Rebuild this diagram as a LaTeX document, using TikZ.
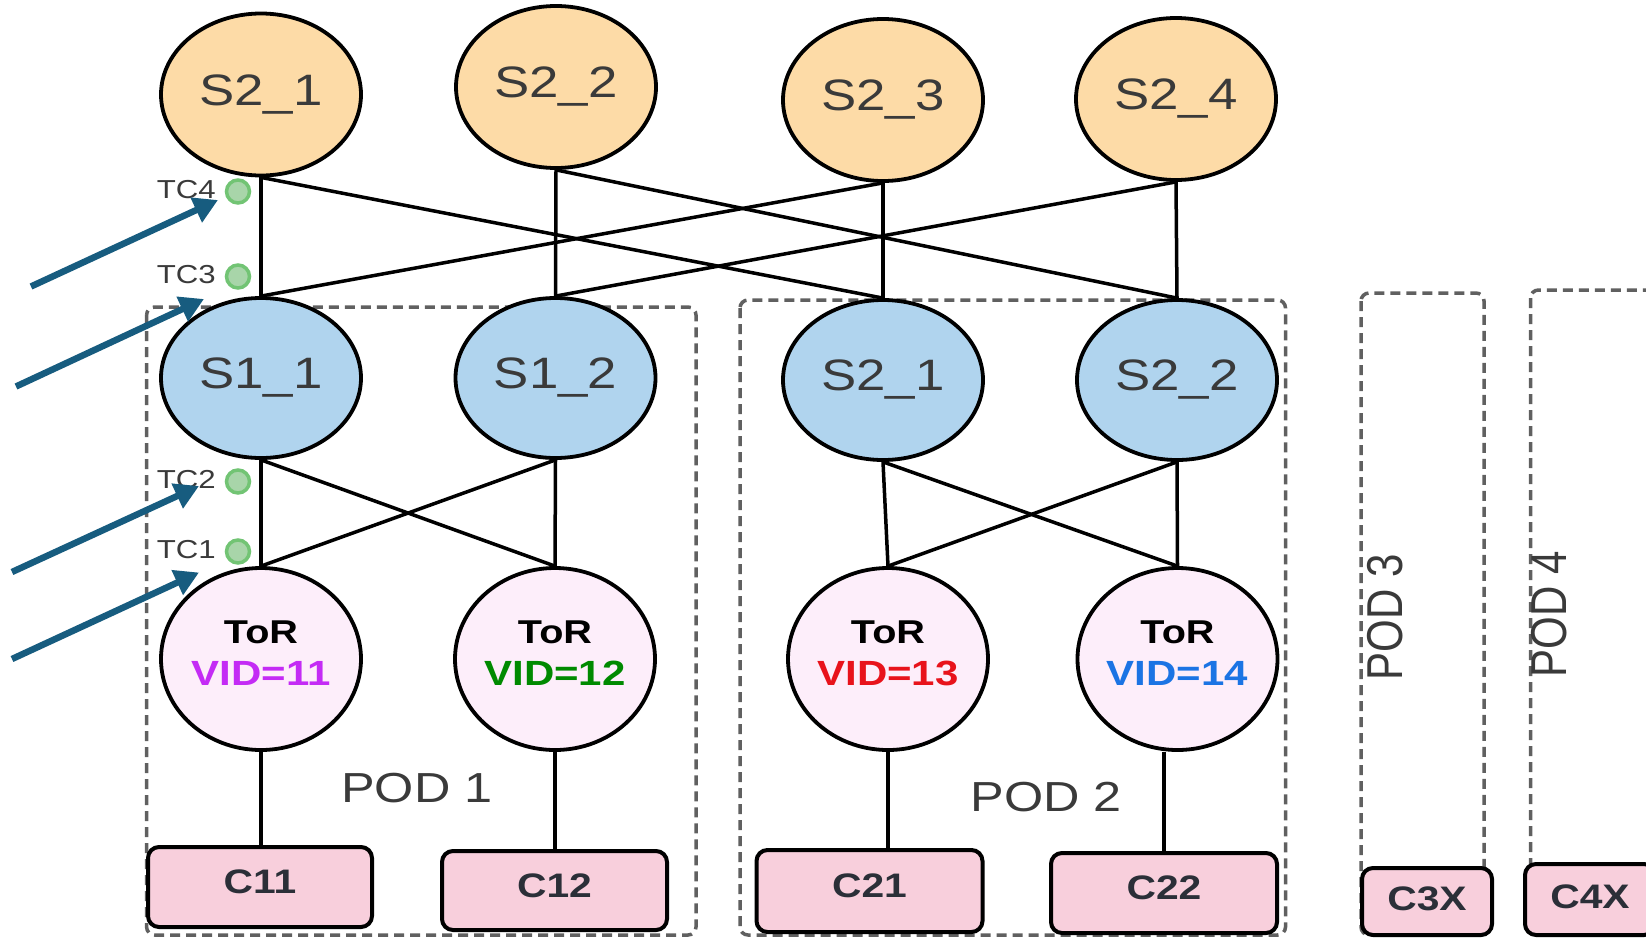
\documentclass[tikz,border=0pt]{standalone}
\usepackage{fontspec}
\setmainfont{Liberation Sans}
\usepackage{graphicx}
\usetikzlibrary{shapes.geometric,arrows.meta}

\definecolor{spinefill}{HTML}{FDDBA7}
\definecolor{leaffill}{HTML}{B0D4EE}
\definecolor{torfill}{HTML}{FDEEFA}
\definecolor{hostfill}{HTML}{F8CFDC}
\definecolor{podgray}{HTML}{606060}
\definecolor{labelgray}{HTML}{3A3A3A}
\definecolor{hosttext}{HTML}{2B2F38}
\definecolor{arrowblue}{HTML}{175C7F}
\definecolor{dotfill}{HTML}{A8D5A9}
\definecolor{dotedge}{HTML}{72C474}
\definecolor{vidpurple}{HTML}{C42BF5}
\definecolor{vidgreen}{HTML}{008A00}
\definecolor{vidred}{HTML}{E8131B}
\definecolor{vidblue}{HTML}{1B74E4}

% slightly widened lettering
\newcommand{\wtext}[1]{\scalebox{1.2}[1]{#1}}
\newcommand{\ttext}[1]{\scalebox{1}[1.2]{#1}}

\begin{document}
\begin{tikzpicture}[x=1pt,y=-1pt,
  spine/.style={ellipse,draw=black,line width=3.8pt,fill=spinefill,
    minimum width=200pt,minimum height=162pt,inner sep=0pt,
    text=labelgray,font=\fontsize{44}{50}\selectfont},
  leaf/.style={spine,fill=leaffill,minimum height=160pt},
  tor/.style={ellipse,draw=black,line width=3.8pt,fill=torfill,
    minimum width=200pt,minimum height=182pt,inner sep=0pt},
  torname/.style={inner sep=0pt,font=\bfseries\fontsize{33}{36}\selectfont},
  vid/.style={inner sep=0pt,font=\bfseries\fontsize{35}{38}\selectfont},
  host/.style={rectangle,rounded corners=11pt,draw=black,line width=4pt,
    fill=hostfill,inner sep=0pt,text=hosttext,
    font=\bfseries\fontsize{34}{38}\selectfont},
  hostname/.style={inner sep=0pt,text=hosttext,
    font=\bfseries\fontsize{34}{38}\selectfont},
  pod/.style={draw=podgray,line width=3.5pt,dash pattern=on 10pt off 6pt,
    rounded corners=8pt},
  podname/.style={inner sep=0pt,text=labelgray,font=\fontsize{42}{46}\selectfont},
  link/.style={draw=black,line width=3.5pt},
  tcdot/.style={circle,fill=dotfill,draw=dotedge,line width=3.5pt,
    minimum size=23pt,inner sep=0pt},
  tcname/.style={inner sep=0pt,text=labelgray,anchor=east,
    font=\fontsize{26}{29}\selectfont},
  flow/.style={draw=arrowblue,line width=6.5pt,
    -{Triangle[length=24pt,width=26pt]}}
]
\useasboundingbox (0,0) rectangle (1646,937);
\clip (0,0) rectangle (1646,937);

% pod outlines
\draw[pod] (146.6,307) rectangle (696,935);
\draw[pod] (740,300) rectangle (1285.5,935);
\draw[pod] (1361,293) rectangle (1484,935);
\draw[pod] (1530.5,290) rectangle (1700,935);

% spine layer
\node[spine] (t1) at (261,94.5) {\wtext{S2\_1}};
\node[spine] (t2) at (556,87) {\wtext{S2\_2}};
\node[spine] (t3) at (883,100) {\wtext{S2\_3}};
\node[spine] (t4) at (1176,99) {\wtext{S2\_4}};

% aggregation layer
\node[leaf] (a1) at (261,378) {\wtext{S1\_1}};
\node[leaf] (a2) at (555.5,378) {\wtext{S1\_2}};
\node[leaf] (b1) at (883,380) {\wtext{S2\_1}};
\node[leaf] (b2) at (1177,380) {\wtext{S2\_2}};

% top-of-rack switches
\node[tor] (r1) at (261,659) {};
\node[tor] (r2) at (555,659) {};
\node[tor] (r3) at (888,659) {};
\node[tor] (r4) at (1177.5,659) {};
\node[torname] (r1n) at (261,632) {\wtext{ToR}};
\node[torname] (r2n) at (555,632) {\wtext{ToR}};
\node[torname] (r3n) at (888,632) {\wtext{ToR}};
\node[torname] (r4n) at (1177.5,632) {\wtext{ToR}};
\node[vid,text=vidpurple] (r1v) at (261,673) {\wtext{VID=11}};
\node[vid,text=vidgreen] (r2v) at (555,673) {\wtext{VID=12}};
\node[vid,text=vidred] (r3v) at (888,673) {\wtext{VID=13}};
\node[vid,text=vidblue] (r4v) at (1177.5,673) {\wtext{VID=14}};

% hosts
\node[host,minimum width=224pt,minimum height=80pt] (c11) at (260,887) {};
\node[host,minimum width=225pt,minimum height=79pt] (c12) at (554.5,890.5) {};
\node[host,minimum width=226pt,minimum height=82pt] (c21) at (869.5,891) {};
\node[host,minimum width=226pt,minimum height=80pt] (c22) at (1164,893) {};
\node[host,minimum width=130pt,minimum height=67pt] (c3x) at (1427,901.5) {};
\node[host,minimum width=130pt,minimum height=71pt] (c4x) at (1590,899.5) {};
\node[hostname] (c11n) at (260,882) {\wtext{C11}};
\node[hostname] (c12n) at (554.5,885.5) {\wtext{C12}};
\node[hostname] (c21n) at (869.5,886) {\wtext{C21}};
\node[hostname] (c22n) at (1164,888) {\wtext{C22}};
\node[hostname] (c3xn) at (1427,899) {\wtext{C3X}};
\node[hostname] (c4xn) at (1590,897) {\wtext{C4X}};

% pod names
\node[podname] (p1) at (417,788) {\wtext{POD 1}};
\node[podname] (p2) at (1046,797) {\wtext{POD 2}};
\node[podname,rotate=90] (p3) at (1385,617) {\ttext{POD 3}};
\node[podname,rotate=90] (p4) at (1549,614) {\ttext{POD 4}};

% spine to aggregation links
\draw[link] (t1.south) -- (a1.north);
\draw[link] (t1.south) -- (b1.north);
\draw[link] (t2.south) -- (a2.north);
\draw[link] (t2.south) -- (b2.north);
\draw[link] (t3.south) -- (b1.north);
\draw[link] (t3.south) -- (a1.north);
\draw[link] (t4.south) -- (b2.north);
\draw[link] (t4.south) -- (a2.north);

% aggregation to ToR links
\draw[link] (a1.south) -- (r1.north);
\draw[link] (a1.south) -- (r2.north);
\draw[link] (a2.south) -- (r2.north);
\draw[link] (a2.south) -- (r1.north);
\draw[link] (b1.south) -- (r3.north);
\draw[link] (b1.south) -- (r4.north);
\draw[link] (b2.south) -- (r4.north);
\draw[link] (b2.south) -- (r3.north);

% ToR to host links
\draw[link] (r1.south) -- (r1.south |- c11.north);
\draw[link] (r2.south) -- (r2.south |- c12.north);
\draw[link] (r3.south) -- (r3.south |- c21.north);
\draw[link] (c22.north) -- (c22.north |- r4.south);

% tap points
\node[tcdot] (tc4d) at (238,191.5) {};
\node[tcdot] (tc3d) at (238,276.5) {};
\node[tcdot] (tc2d) at (238,481.5) {};
\node[tcdot] (tc1d) at (238,551.5) {};
\node[tcname] (tc4) at (216,190) {\wtext{TC4}};
\node[tcname] (tc3) at (216,275) {\wtext{TC3}};
\node[tcname] (tc2) at (216,480) {\wtext{TC2}};
\node[tcname] (tc1) at (216,550) {\wtext{TC1}};

% pointers
\coordinate (f4s) at (31,286.5);
\coordinate (f4e) at (218,200);
\coordinate (f3s) at (16,386.5);
\coordinate (f3e) at (204,299);
\coordinate (f2s) at (12,572);
\coordinate (f2e) at (199,486);
\coordinate (f1s) at (12,659);
\coordinate (f1e) at (199,572.5);
\draw[flow] (f4s) -- (f4e);
\draw[flow] (f3s) -- (f3e);
\draw[flow] (f2s) -- (f2e);
\draw[flow] (f1s) -- (f1e);
\end{tikzpicture}
\end{document}
